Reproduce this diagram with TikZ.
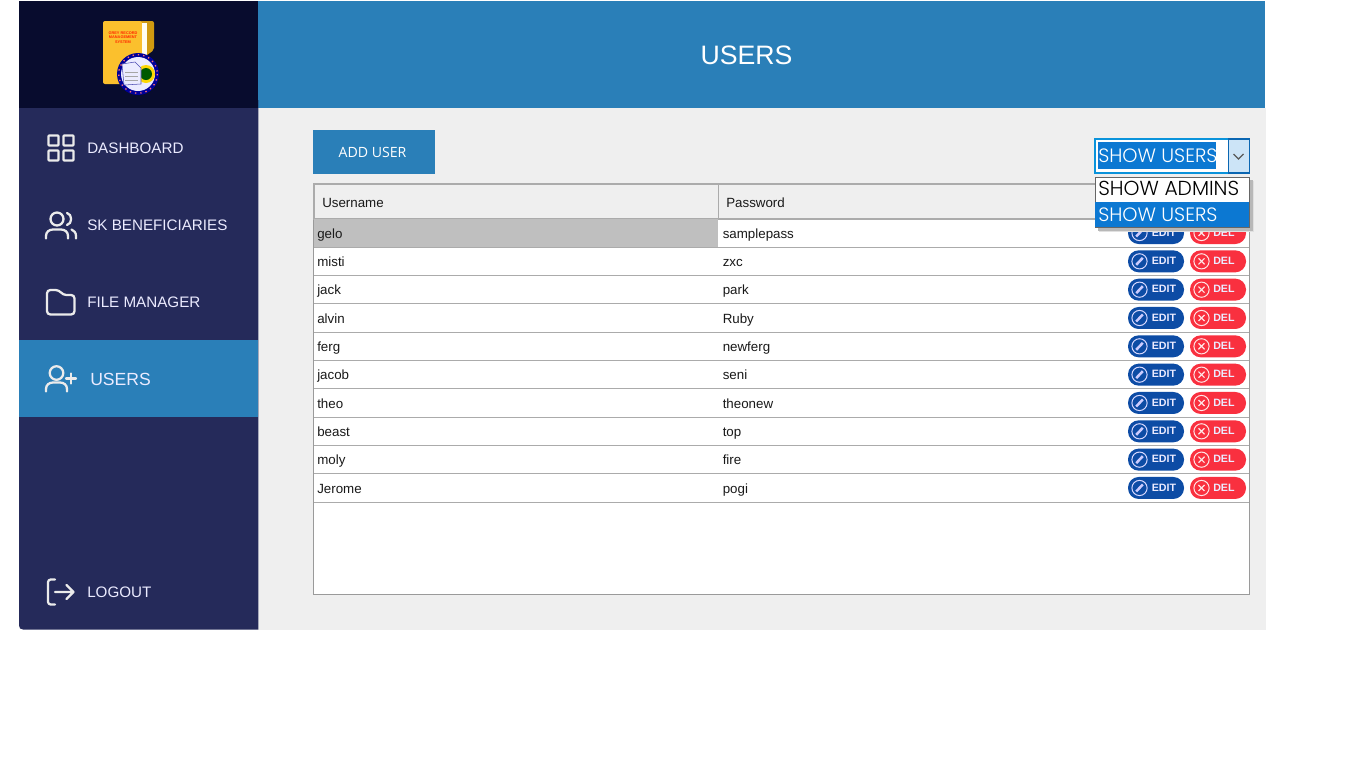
\documentclass[tikz,border=0pt]{standalone}
\usepackage{fontspec}
\setmainfont{Liberation Sans}
\newfontfamily\gothic{Poppins Light}
\newfontfamily\uifont{Open Sans}
\definecolor{navy}{HTML}{252A5A}
\definecolor{darknavy}{HTML}{080C2E}
\definecolor{blueui}{HTML}{2A7FB8}
\definecolor{panel}{HTML}{EFEFEF}
\definecolor{gridc}{HTML}{ABABAB}
\definecolor{selblue}{HTML}{0C78D2}
\definecolor{editblue}{HTML}{0D4CA5}
\definecolor{delred}{HTML}{F9303F}
\definecolor{folderY}{HTML}{FBC02D}
\definecolor{folderD}{HTML}{D09A10}
\definecolor{btnblue}{HTML}{CCE4F7}
\tikzset{
 x=0.75pt,y=-0.75pt,
 menutext/.style={anchor=base west,inner sep=0pt,text=white!92!blue,font=\fontsize{11.4pt}{12pt}\selectfont},
 cell/.style={anchor=base west,inner sep=0pt,text=black!90,font=\fontsize{10pt}{12pt}\selectfont},
 icon/.style={draw=white!92!black,line width=1.7pt,line cap=round,line join=round},
 pilltext/.style={anchor=base west,inner sep=0pt,text=white!92!blue,font=\fontsize{8pt}{9pt}\bfseries\selectfont},
 dropt/.style={anchor=base west,inner sep=0pt,font=\gothic\fontsize{14.5pt}{15pt}\selectfont},
 rowline/.style={draw=gridc,line width=0.75pt},
}
\newcommand{\actionbtns}[2]{%
 \fill[editblue,rounded corners=8pt] (1128,#1-11) rectangle (1184,#1+11);
 \draw[white!85!blue,line width=0.75pt] (1139.5,#1) circle (7.6);
 \draw[white!80!blue,line width=1.9pt] (1136.2,#1+3.5) -- (1142.8,#1-3.5);
 \node[pilltext] (edit#2) at (1151.5,#1+3.2) {EDIT};
 \fill[delred,rounded corners=8pt] (1190,#1-11) rectangle (1246,#1+11);
 \draw[white!90!red,line width=0.75pt] (1201.5,#1) circle (7.6);
 \draw[white!90!red,line width=0.9pt] (1198.5,#1-3) -- (1204.5,#1+3) (1198.5,#1+3) -- (1204.5,#1-3);
 \node[pilltext] (del#2) at (1213,#1+3.2) {DEL};
}
\begin{document}
\begin{tikzpicture}
\useasboundingbox (0,0) rectangle (1366,768);
\fill[white] (0,0) rectangle (1366,768);
% panels
\fill[panel] (258,108) rectangle (1266,630);
\fill[blueui] (258,1) rectangle (1265,108);
\fill[navy] (258.3,100) -- (258.3,629.5) -- (23,629.5) .. controls (20.5,629.5) and (19,628) .. (19,625.5) -- (19,100) -- cycle;
\fill[darknavy] (19,1) rectangle (258.3,108);
\fill[blueui] (19,340) rectangle (258.3,417);
\node[text=white,inner sep=0pt,font=\fontsize{20pt}{22pt}\selectfont] (title) at (746.5,55) {USERS};
% logo
\fill[folderD,rounded corners=1.5pt] (140,21) -- (154,21) -- (154,50) -- (140,60) -- cycle;
\fill[folderY,rounded corners=1.5pt] (103,21) -- (142,21) -- (142,84) -- (103,84) -- cycle;
\fill[white!95!yellow] (142,23) rectangle (147,56);
\node[text=red!70!orange,font=\fontsize{2.9pt}{3.6pt}\bfseries\selectfont,align=center,inner sep=0pt] (logotext) at (123,37.5) {GREY RECORD\\MANAGEMENT\\SYSTEM};
\fill[blue!60!black] (138,74) circle (21);
\draw[red!55!white,line width=1pt,dash pattern=on 1pt off 3pt] (138,74) circle (19.3);
\fill[white!92!blue] (138,74) circle (17);
\fill[yellow!75!orange] (146,74) circle (9);
\fill[green!35!black] (146,74) circle (6);
\fill[blue!8!white,draw=blue!40!gray,line width=.4pt] (122,64) -- (135,62) -- (141,68) -- (141,84) -- (124,85) -- cycle;
\draw[gray!70,line width=.7pt] (125,72) -- (138,72) (125,76) -- (138,76) (125,80) -- (138,80);
% menu
\node[menutext] (m1) at (87,153.5) {DASHBOARD};
\node[menutext] (m2) at (87,230.5) {SK BENEFICIARIES};
\node[menutext] (m3) at (87,307.5) {FILE MANAGER};
\node[menutext,font=\fontsize{13.2pt}{14pt}\selectfont] (m4) at (90,385) {USERS};
\node[menutext] (m5) at (87,597.5) {LOGOUT};
% icons
\draw[icon,rounded corners=.5pt] (48.5,135.5) rectangle (58.5,145.5) (63.5,135.5) rectangle (73.5,145.5) (48.5,150.5) rectangle (58.5,160.5) (63.5,150.5) rectangle (73.5,160.5);
\draw[icon] (57,219) circle (6.5);
\draw[icon] (46,238.5) -- (46,236) .. controls (46,232) and (49,229.5) .. (53,229.5) -- (61,229.5) .. controls (65,229.5) and (68,232) .. (68,236) -- (68,238.5);
\draw[icon] (67,213) .. controls (72.5,214) and (72.5,224) .. (67,225);
\draw[icon] (76,238.5) -- (76,236) .. controls (76,232.5) and (74,230.5) .. (71.5,229.5);
\draw[icon,rounded corners=2.5pt] (47,290) -- (59,290) -- (63,295) -- (74.5,295) -- (74.5,314.5) -- (47,314.5) -- cycle;
\draw[icon] (56.5,373) circle (6.8);
\draw[icon] (46,391.5) -- (46,389) .. controls (46,385) and (49,382.5) .. (53,382.5) -- (60,382.5) .. controls (64,382.5) and (67,385) .. (67,389) -- (67,391.5);
\draw[icon] (66,378.5) -- (76,378.5) (71,373.5) -- (71,383.5);
\draw[icon,rounded corners=2pt] (55,579.5) -- (48,579.5) -- (48,604.5) -- (55,604.5);
\draw[icon] (55,592) -- (73.5,592) (66.5,585) -- (73.5,592) -- (66.5,599);
% add user
\fill[blueui] (312.5,130) rectangle (434.5,174);
\node[text=white,inner sep=0pt,font=\uifont\fontsize{10.6pt}{12pt}\selectfont] (adduser) at (372.5,152.5) {ADD USER};
% table
\fill[white] (313,183) rectangle (1249,594.5);
\fill[panel] (314,184) rectangle (1248.5,218.5);
\draw[gridc!60!gray,line width=0.6pt] (313,183) rectangle (1249,594.5);
\draw[gridc,line width=1.5pt] (313,183.5) -- (1249,183.5) (314.2,183.5) -- (314.2,218.5) (313,218.5) -- (1249,218.5);
\draw[gridc,line width=.8pt] (718.5,184) -- (718.5,218);
\node[cell] (hu) at (322,207.2) {Username};
\node[cell] (hp) at (726,207.2) {Password};
\fill[gray!50] (314,219.3) rectangle (718,247);
\foreach \i/\u/\p in {0/gelo/samplepass,1/misti/zxc,2/jack/park,3/alvin/Ruby,4/ferg/newferg,5/jacob/seni,6/theo/theonew,7/beast/top,8/moly/fire,9/Jerome/pogi}{
 \pgfmathsetmacro{\yy}{233+28.33*\i}
 \draw[rowline] (314,\yy+14.1) -- (1248.5,\yy+14.1);
 \node[cell] (u\i) at (317,\yy+5.2) {\u};
 \node[cell] (p\i) at (722.5,\yy+5.2) {\p};
 \actionbtns{\yy}{\i}
}
% combo box
\fill[white,draw=selblue!80!cyan,line width=1pt] (1095,139) rectangle (1249.5,173);
\fill[selblue] (1098,142) rectangle (1216,168.5);
\fill[btnblue,draw=selblue!85!black,line width=1pt] (1228.5,139) rectangle (1249.5,173);
\draw[black!65,line width=.9pt] (1233.5,154) -- (1238.5,159) -- (1243.5,154);
\node[dropt,text=white] (cb) at (1098,162) {SHOW USERS};
% drop-down list
\fill[black!12] (1099,181) rectangle (1254,232);
\fill[black!28] (1098,180) rectangle (1252.5,230.5);
\fill[white,draw=black!60,line width=.7pt] (1095,177) rectangle (1249.5,227.5);
\fill[selblue] (1095.4,202) rectangle (1249.1,227);
\node[dropt,text=black,font=\gothic\fontsize{15.2pt}{16pt}\selectfont] (d1) at (1098,195.5) {SHOW ADMINS};
\node[dropt,text=white] (d2) at (1098,221) {SHOW USERS};
\end{tikzpicture}
\end{document}
